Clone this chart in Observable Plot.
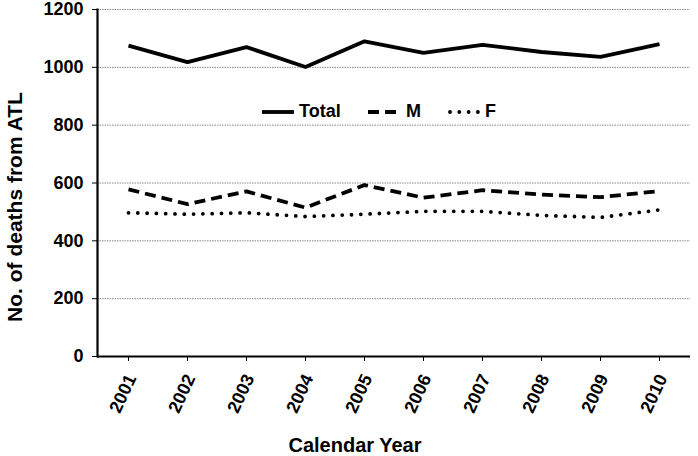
<!DOCTYPE html>
<html><head><meta charset="utf-8">
<script src="https://cdn.jsdelivr.net/npm/d3@7"></script>
<script src="https://cdn.jsdelivr.net/npm/@observablehq/plot@0.6"></script>
<style>
body{margin:0;background:#fff;}
#wrap{position:relative;width:698px;height:456px;font-family:"Liberation Sans",Arial,sans-serif;font-weight:bold;color:#000;}
.ttl{position:absolute;white-space:nowrap;}
.leg{position:absolute;display:flex;align-items:center;font-size:18px;}
.leg svg{display:block;margin-right:3px;}
</style></head><body><div id="wrap"></div>
<script>
const years = ["2001","2002","2003","2004","2005","2006","2007","2008","2009","2010"];
const total = [1075,1018,1070,1001,1090,1050,1078,1053,1036,1080];
const male = [578,527,571,515,593,549,575,560,551,572];
const female = [497,492,497,484,492,502,502,488,481,507];
const yTicks = [0,200,400,600,800,1000,1200];
const seriesNames = ["Total","M","F"];
const seriesDash = {"Total":null,"M":"11,6","F":"0,9.3"};

const seriesValues = {"Total":total,"M":male,"F":female};
const rows = seriesNames.flatMap(s => years.map((y,i)=>({series:s,year:y,value:seriesValues[s][i]})));

const marks = [
  Plot.gridY(yTicks, {stroke:"#888", strokeOpacity:1, strokeWidth:1, strokeDasharray:"1.5,1"}),
  Plot.axisY(yTicks, {tickSize:5, tickPadding:9, tickFormat:d=>String(d), label:null, fontSize:18, fontWeight:"bold"}),
  Plot.axisX({tickSize:5, tickFormat:()=>"", label:null}),
  Plot.axisX({tickSize:0, tickPadding:19, dx:3, tickRotate:-65, label:null, fontSize:18, fontWeight:"bold"}),
  Plot.ruleY([0], {strokeWidth:2.2}),
  Plot.frame({anchor:"left", strokeWidth:2.2})
];
for (const s of seriesNames) {
  marks.push(Plot.line(rows.filter(d=>d.series===s), {
    x:"year", y:"value", stroke:"black", strokeWidth:3.8,
    strokeDasharray: seriesDash[s] || undefined,
    strokeLinecap: s==="F" ? "round" : "butt"
  }));
}

const chart = Plot.plot({
  width:698, height:456,
  marginLeft:97, marginRight:8, marginTop:9, marginBottom:100,
  style:{fontFamily:"Liberation Sans, Arial, sans-serif", fontWeight:"bold", fontSize:"18px", color:"#000", background:"#fff"},
  x:{type:"point", domain:years, padding:0.5},
  y:{domain:[0,1200]},
  marks
});
const wrap = document.getElementById("wrap");
wrap.appendChild(chart);

function addDiv(cls, text, css){
  const d = document.createElement("div");
  d.className = cls; d.textContent = text;
  Object.assign(d.style, css);
  wrap.appendChild(d);
  return d;
}
addDiv("ttl","No. of deaths from ATL",{left:"15px",top:"207px",fontSize:"21px",transform:"translate(-50%,-50%) rotate(-90deg)"});
addDiv("ttl","Calendar Year",{left:"355px",top:"434px",fontSize:"20px",transform:"translateX(-50%)"});

const legPos = {"Total":{left:262, sw:32}, "M":{left:368, sw:33}, "F":{left:448, sw:32}};
for (const s of seriesNames) {
  const item = document.createElement("div");
  item.className = "leg";
  item.style.left = legPos[s].left + "px";
  item.style.top = "100px";
  const w = legPos[s].sw;
  const svg = d3.create("svg").attr("width", w+2).attr("height", 22);
  svg.append("line").attr("x1", s==="F"?2:0).attr("x2", w).attr("y1", 12).attr("y2", 12)
    .attr("stroke","black").attr("stroke-width",3.8)
    .attr("stroke-dasharray", seriesDash[s])
    .attr("stroke-linecap", s==="F"?"round":"butt");
  item.appendChild(svg.node());
  const t = document.createElement("span");
  t.textContent = s;
  item.appendChild(t);
  wrap.appendChild(item);
}
</script></body></html>
